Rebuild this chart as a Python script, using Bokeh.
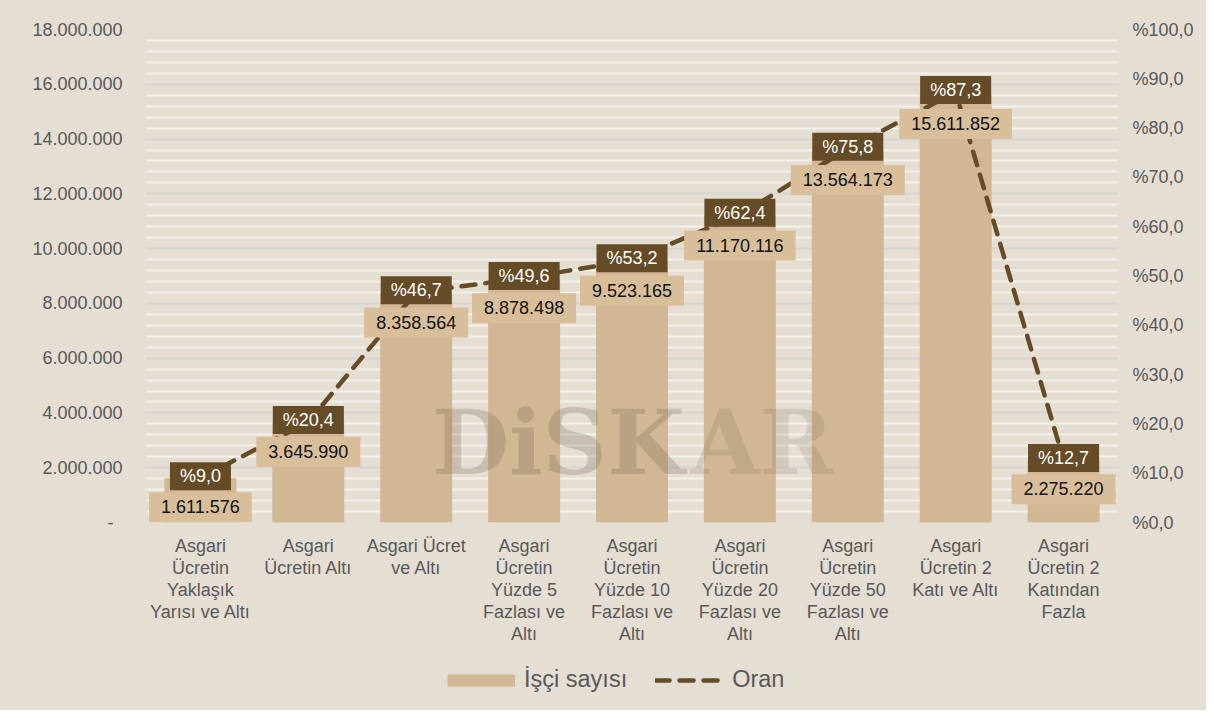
from bokeh.plotting import figure
from bokeh.layouts import column
from bokeh.models import (ColumnDataSource, FactorRange, Range1d, LinearAxis, FixedTicker,
                          Legend, LegendItem, Label)
from bokeh.core.properties import value
from bokeh.embed import file_html
from bokeh.resources import INLINE

# ---------------- data ----------------
categories = [
    "Asgari\nÜcretin\nYaklaşık\nYarısı ve Altı",
    "Asgari\nÜcretin Altı",
    "Asgari Ücret\nve Altı",
    "Asgari\nÜcretin\nYüzde 5\nFazlası ve\nAltı",
    "Asgari\nÜcretin\nYüzde 10\nFazlası ve\nAltı",
    "Asgari\nÜcretin\nYüzde 20\nFazlası ve\nAltı",
    "Asgari\nÜcretin\nYüzde 50\nFazlası ve\nAltı",
    "Asgari\nÜcretin 2\nKatı ve Altı",
    "Asgari\nÜcretin 2\nKatından\nFazla",
]
isci_sayisi = [1611576, 3645990, 8358564, 8878498, 9523165, 11170116, 13564173, 15611852, 2275220]
oran = [9.0, 20.4, 46.7, 49.6, 53.2, 62.4, 75.8, 87.3, 12.7]

left_ticks = [0, 2000000, 4000000, 6000000, 8000000, 10000000, 12000000, 14000000, 16000000, 18000000]
left_tick_labels = ["-\u2002", "2.000.000", "4.000.000", "6.000.000", "8.000.000", "10.000.000",
                    "12.000.000", "14.000.000", "16.000.000", "18.000.000"]
right_ticks = [0, 10, 20, 30, 40, 50, 60, 70, 80, 90, 100]
right_tick_labels = ["%0,0", "%10,0", "%20,0", "%30,0", "%40,0", "%50,0",
                     "%60,0", "%70,0", "%80,0", "%90,0", "%100,0"]
series_names = ["İşçi sayısı", "Oran"]

# ---------------- styles ----------------
BG = "#E4DED3"
BAR = "#D1B794"
BOX = "#D9BF99"
DARK = "#654C26"
GREY_TXT = "#595959"
FONT_NAME = "Liberation Sans"
FONT = value(FONT_NAME)
LINE_STYLE = dict(line_color=DARK, line_width=4.5, line_dash="14 10", line_cap="round")

src = ColumnDataSource(dict(
    cat=categories,
    isci=isci_sayisi,
    oran=oran,
    isci_lbl=[f"{v:,}".replace(",", ".") for v in isci_sayisi],
    oran_lbl=["%" + f"{v:.1f}".replace(".", ",") for v in oran],
))

p = figure(width=1206, height=650, output_backend="svg", toolbar_location=None,
           x_range=FactorRange(*categories, range_padding=0),
           y_range=Range1d(0, 18000000),
           min_border_left=146, min_border_right=89, min_border_top=29, min_border_bottom=128)
p.extra_y_ranges = {"pct": Range1d(0, 100)}

p.background_fill_color = BG
p.border_fill_color = BG
p.outline_line_color = None

# grid
minor = [v for v in range(0, 18000001, 400000) if v % 2000000 != 0]
p.yaxis.ticker = FixedTicker(ticks=left_ticks, minor_ticks=minor)
p.ygrid.grid_line_color = "#D7D5D1"
p.ygrid.grid_line_width = 1.8
p.ygrid.minor_grid_line_color = "#F4F1EC"
p.ygrid.minor_grid_line_width = 1.8
p.xgrid.grid_line_color = None

# left axis
ya = p.yaxis[0]
ya.major_label_overrides = {t: l for t, l in zip(left_ticks, left_tick_labels)}
ya.axis_line_color = None
ya.major_tick_line_color = None
ya.minor_tick_line_color = None
ya.major_label_standoff = 18
ya.major_label_text_font = FONT_NAME
ya.major_label_text_font_size = "18px"
ya.major_label_text_color = GREY_TXT

# right axis
ra = LinearAxis(y_range_name="pct", ticker=FixedTicker(ticks=right_ticks))
ra.major_label_overrides = {t: l for t, l in zip(right_ticks, right_tick_labels)}
ra.axis_line_color = None
ra.major_tick_line_color = None
ra.minor_tick_line_color = None
ra.major_label_standoff = 9
ra.major_label_text_font = FONT_NAME
ra.major_label_text_font_size = "18px"
ra.major_label_text_color = GREY_TXT
p.add_layout(ra, "right")

# x axis
xa = p.xaxis[0]
xa.axis_line_color = None
xa.major_tick_line_color = None
xa.minor_tick_line_color = None
xa.major_label_standoff = 7
xa.major_label_text_font = FONT_NAME
xa.major_label_text_font_size = "18px"
xa.major_label_text_color = GREY_TXT
xa.major_label_text_line_height = 1.1

# bars
bars = p.vbar(x="cat", top="isci", width=0.667, source=src, fill_color=BAR, line_color=None)

# watermark (decoration)
wm1 = Label(x=538, y=80, x_units="screen", y_units="screen", text="DiSK",
            text_font="DejaVu Serif", text_font_style="bold", text_font_size="89px",
            text_align="right", text_baseline="middle", text_color="#6B5B45", text_alpha=0.24)
wm2 = Label(x=544, y=80, x_units="screen", y_units="screen", text="AR",
            text_font="DejaVu Serif", text_font_style="bold", text_font_size="89px",
            text_align="left", text_baseline="middle", text_color="#6B5B45", text_alpha=0.15)
p.add_layout(wm1)
p.add_layout(wm2)

# line
line = p.line(x="cat", y="oran", y_range_name="pct", source=src, **LINE_STYLE)

# bar value labels
p.text(x="cat", y="isci", text="isci_lbl", source=src, y_offset=29,
       text_align="center", text_baseline="middle", text_font=FONT, text_font_size="18px",
       text_color="#111111", background_fill_color=BOX,
       padding=dict(left=12, right=12, top=8, bottom=9))

# ratio labels
p.text(x="cat", y="oran", text="oran_lbl", source=src, y_range_name="pct", y_offset=-2,
       text_align="center", text_baseline="middle", text_font=FONT, text_font_size="18px",
       text_color="#FFFFFF", background_fill_color=DARK,
       padding=dict(left=10, right=10, top=4, bottom=4))

# ---------------- legend strip ----------------
lg = figure(width=1206, height=60, output_backend="svg", toolbar_location=None,
            x_range=Range1d(0, 1), y_range=Range1d(0, 1), x_axis_type=None, y_axis_type=None,
            min_border=0)
lg.background_fill_alpha = 0
lg.border_fill_color = BG
lg.outline_line_color = None
lg.grid.visible = False
# legend keys: drawn outside the visible range, only their swatches show
bar_key = lg.line(x=[-2, -1], y=[-2, -1], line_color=BAR, line_width=12, line_cap="butt")
line_key = lg.line(x=[-2, -1], y=[-2, -1], **LINE_STYLE)
legend = Legend(items=[LegendItem(label=series_names[0], renderers=[bar_key]),
                       LegendItem(label=series_names[1], renderers=[line_key])],
                orientation="horizontal", location=(301, 17),
                glyph_width=68, glyph_height=24, label_height=24, label_standoff=9, spacing=28,
                padding=0, margin=0, border_line_color=None, background_fill_alpha=0,
                label_text_font=FONT_NAME, label_text_font_size="23.5px", label_text_color=GREY_TXT)
lg.add_layout(legend, "center")

layout = column(p, lg, spacing=0, styles={"background-color": BG})
open("out.html", "w").write(file_html(layout, INLINE))
